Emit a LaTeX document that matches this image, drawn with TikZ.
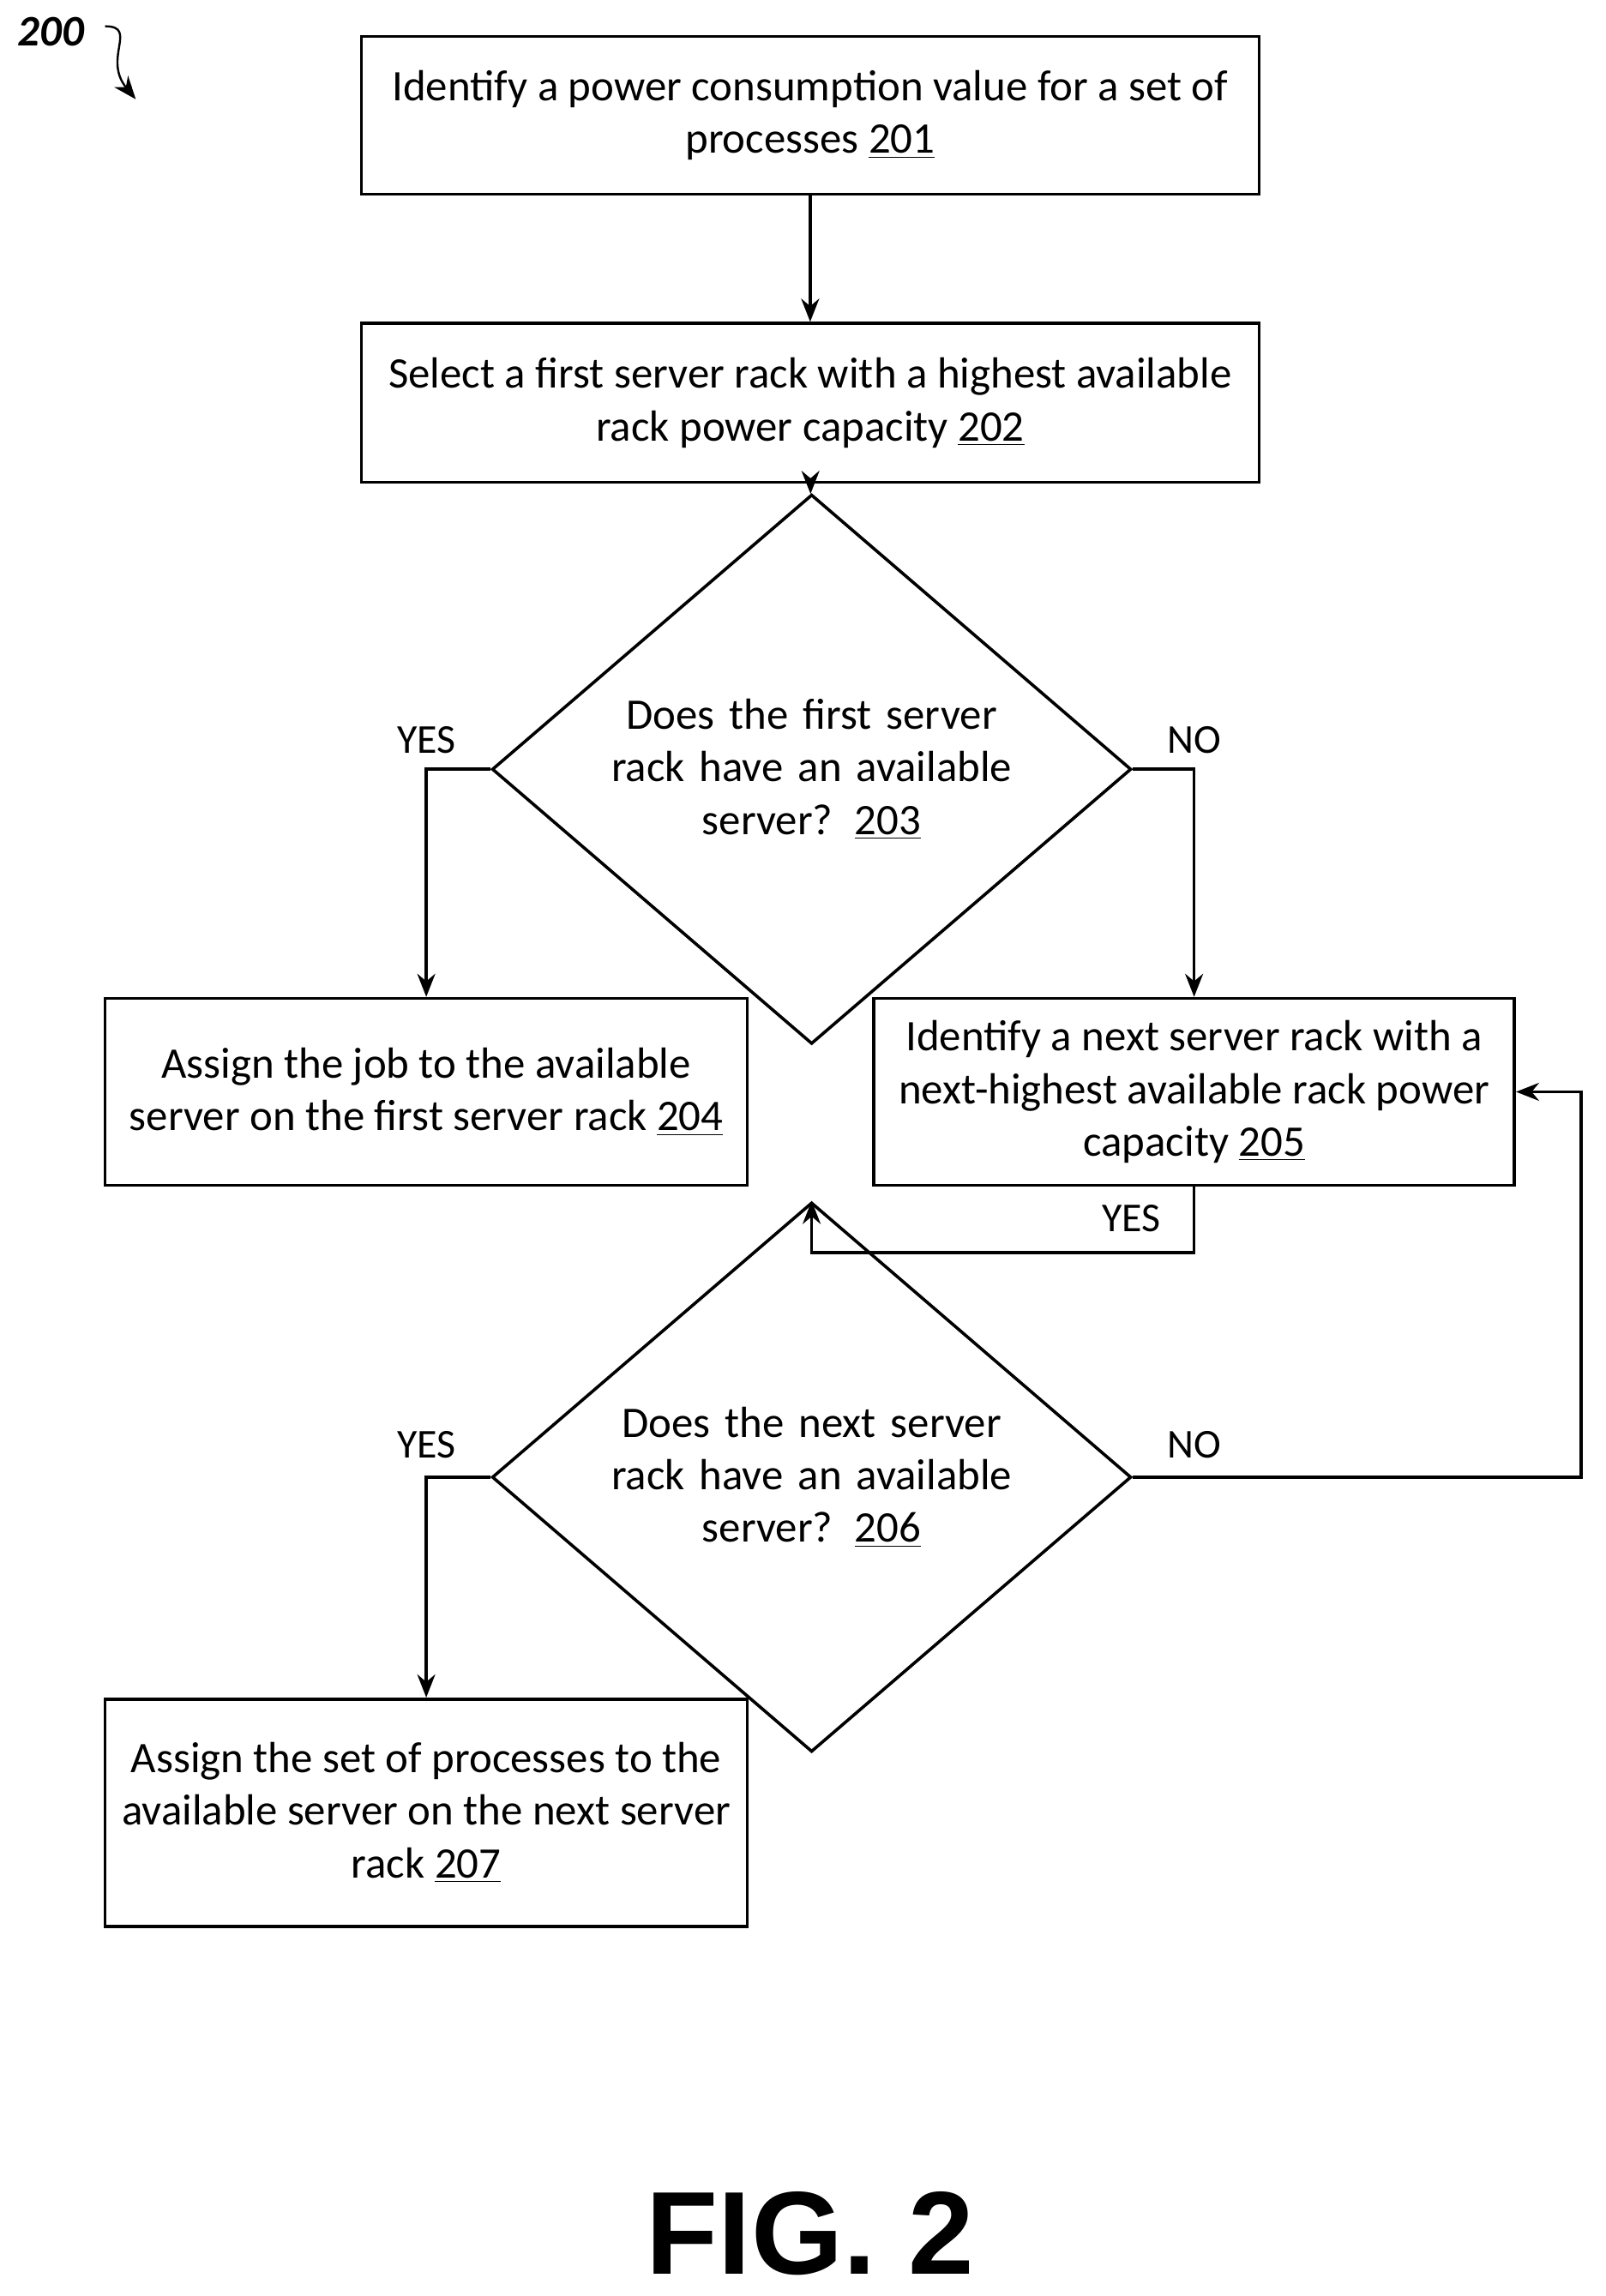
\documentclass[tikz,border=0pt]{standalone}
\usepackage{fontspec}
\setmainfont{Carlito}
\newfontfamily\figfont{Liberation Sans}
\usetikzlibrary{shapes.geometric,arrows.meta}
\begin{document}
\begin{tikzpicture}[x=0.02cm,y=-0.02cm,
font=\fontsize{17}{20.5}\selectfont,
box/.style={rectangle,draw=black,line width=1.2pt,align=center,inner sep=0pt},
dec/.style={diamond,draw=black,line width=1.2pt,align=center,inner sep=0pt,minimum width=8.76cm,minimum height=4.36cm,text width=5.6cm},
lab/.style={font=\fontsize{16}{18}\selectfont},
>={Stealth[length=9pt,width=7pt]}, every path/.style={line width=1.2pt}
]
\useasboundingbox (0,0) rectangle (1100,1573);

% Flussdiagramm 200
\node[font=\fontsize{17}{20}\selectfont\bfseries\itshape] (num) at (35,22) {200};
\coordinate (numtip) at (93,68);
\draw[->,line width=0.8pt] (72,18) .. controls (95,18) and (70,40) .. (numtip);

\node[box,minimum width=12.3cm,minimum height=2.16cm] (b201) at (555,79) {Identify a power consumption value for a set of\\processes \underline{201}};
\node[box,minimum width=12.3cm,minimum height=2.18cm] (b202) at (555,276) {Select a first server rack with a highest available\\rack power capacity \underline{202}};
\node[dec] (d203) at (556,527) {Does the first server\\rack have an available\\server? \underline{203}};
\node[box,minimum width=8.8cm,minimum height=2.56cm] (b204) at (292,748) {Assign the job to the available\\server on the first server rack \underline{204}};
\node[box,minimum width=8.78cm,minimum height=2.56cm] (b205) at (818,748) {Identify a next server rack with a\\next-highest available rack power\\capacity \underline{205}};
\node[dec] (d206) at (556,1012) {Does the next server\\rack have an available\\server? \underline{206}};
\node[box,minimum width=8.8cm,minimum height=3.12cm] (b207) at (292,1242) {Assign the set of processes to the\\available server on the next server\\rack \underline{207}};

\draw[->] (b201) -- (b202);
\draw[->] (b202) -- (d203);
\draw[->] (d203.west) -| (b204.north);
\draw[->] (d203.east) -| (b205.north);
\draw[->] (b205.south) -- ++(0,45) -| (d206.north);
\draw[->] (d206.west) -| (b207.north);
\draw[->] (d206.east) -- ++(307,0) |- (b205.east);

\node[lab] (y203) at (292,507) {YES};
\node[lab] (n203) at (818,507) {NO};
\node[lab] (y205) at (775,835) {YES};
\node[lab] (y206) at (292,990) {YES};
\node[lab] (n206) at (818,990) {NO};

\node[font=\figfont\fontsize{46}{50}\selectfont\bfseries] (fig) at (555,1530) {FIG. 2};
\end{tikzpicture}
\end{document}
